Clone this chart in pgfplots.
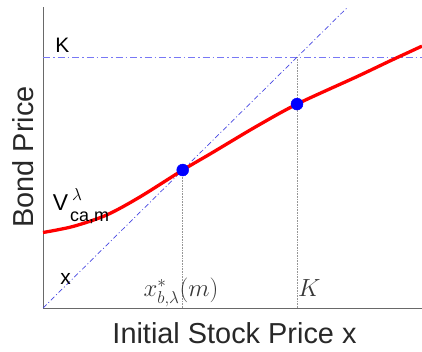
\documentclass[border=0pt]{standalone}
\usepackage{pgfplots}
\pgfplotsset{compat=1.18}
\usepackage{fontspec}
\setmainfont{Liberation Sans}
\definecolor{refline}{RGB}{120,120,245}
\definecolor{diagline}{RGB}{70,70,225}
\definecolor{axgray}{RGB}{105,105,105}
\definecolor{dotgray}{RGB}{150,150,150}
\definecolor{labgray}{RGB}{40,40,40}
\definecolor{ticgray}{RGB}{55,55,55}

\begin{document}
\begin{tikzpicture}
\useasboundingbox (0,0) rectangle (422bp,352bp);
\begin{axis}[
  scale only axis, width=379bp, height=301bp,
  at={(43bp,44bp)}, anchor=south west,
  xmin=0, xmax=1.492, ymin=0, ymax=1.2,
  xtick=\empty, ytick=\empty,
  axis x line*=bottom, axis y line*=left,
  axis line style={-, draw=axgray, line width=0.8pt},
  every outer x axis line/.append style={-},
  every outer y axis line/.append style={-},
  clip=false,
]
% horizontal level K
\addplot[refline, line width=1.2pt, dash pattern=on 7bp off 3bp on 1.5bp off 3bp]
  coordinates {(0,1) (1.492,1)};
% diagonal y = x
\addplot[diagline, line width=0.7pt, dash pattern=on 5bp off 2.5bp on 1bp off 2.5bp]
  coordinates {(0,0) (1.2,1.2)};
% vertical guides
\addplot[dotgray, line width=0.6pt, densely dotted] coordinates {(0.55,0) (0.55,0.55)};
\addplot[dotgray, line width=0.6pt, densely dotted] coordinates {(1,0) (1,1)};
% bond price curve
\addplot[red, line width=3.3pt, smooth] coordinates {
  (0,0.301) (0.118,0.325) (0.251,0.371) (0.382,0.443) (0.55,0.550)
  (0.661,0.616) (0.835,0.721) (1.0,0.813) (1.235,0.922) (1.366,0.985) (1.492,1.044)
};
% marked points
\addplot[only marks, mark=*, mark size=6bp, blue, mark options={fill=blue, draw=blue}]
  coordinates {(0.55,0.55) (1.0,0.813)};
% annotations
\node[anchor=base west, font=\fontsize{21}{25}\selectfont] at (axis cs:0.035,1.02) {K};
\node[anchor=base west, font=\fontsize{23}{27}\selectfont, inner sep=0pt] at (axis cs:0.038,0.39) {V};
\node[anchor=base west, font=\fontsize{17}{20}\selectfont, inner sep=0pt] at (axis cs:0.114,0.43) {$\lambda$};
\node[anchor=base west, font=\fontsize{18}{20}\selectfont, inner sep=0pt] at (axis cs:0.106,0.343) {ca,m};
\node[anchor=base west, font=\fontsize{21}{25}\selectfont] at (axis cs:0.055,0.0956) {x};
\node[anchor=base, text=ticgray, font=\fontsize{24}{28}\selectfont] at (axis cs:0.543,0.044) {$x^*_{b,\lambda}(m)$};
\node[anchor=base west, text=ticgray, font=\fontsize{24}{28}\selectfont, inner sep=1pt] at (axis cs:1.0,0.044) {$K$};
\end{axis}
\node[anchor=base, text=labgray, font=\fontsize{29}{34}\selectfont] at (234.5bp,9bp) {Initial Stock Price x};
\node[anchor=base, rotate=90, text=labgray, font=\fontsize{29}{34}\selectfont] at (33bp,195bp) {Bond Price};
\end{tikzpicture}
\end{document}
